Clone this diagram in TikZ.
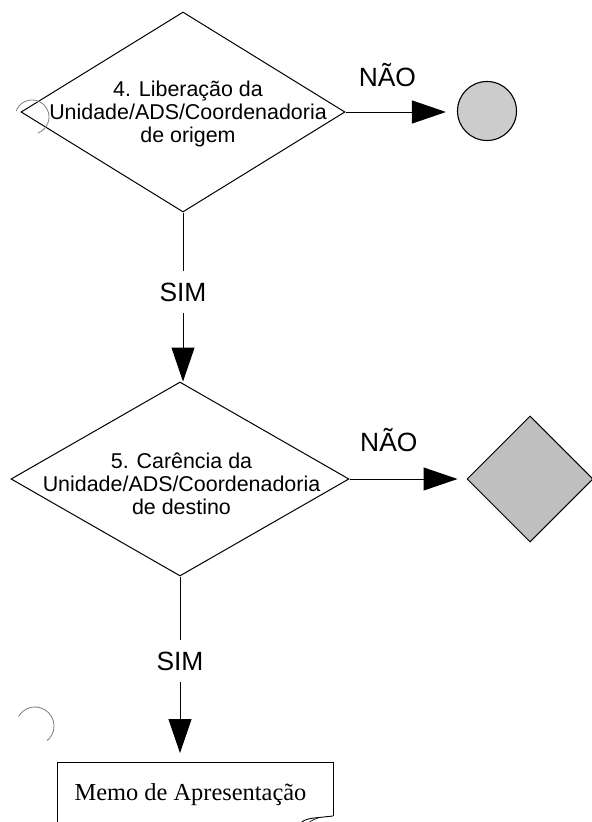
\documentclass[tikz,border=0pt]{standalone}
\usepackage{fontspec}
\setmainfont{Liberation Sans}
\newfontfamily\serifface{Liberation Serif}
\usetikzlibrary{shapes.geometric,arrows.meta,positioning}
\tikzset{
  decision/.style={diamond,draw=black,line width=1bp,inner sep=0pt,aspect=1},
  dtext/.style={align=center,font=\fontsize{21.5}{23}\selectfont,inner sep=0pt},
  lbl/.style={font=\fontsize{26.5}{30}\selectfont,inner sep=0pt},
  flow/.style={draw=black,line width=1bp,-{Triangle[length=34bp,width=23bp]}},
  endcircle/.style={circle,draw=black,line width=1.1bp,fill=black!20,minimum size=59bp,inner sep=0pt},
  enddiamond/.style={diamond,draw=black,line width=1bp,fill=black!25,minimum width=126bp,minimum height=126bp,inner sep=0pt},
  doc/.style={draw=none,inner sep=0pt},
  artifact/.style={draw=black!50,line width=0.8bp}
}
\begin{document}
\begin{tikzpicture}[x=1bp,y=-1bp]
\useasboundingbox (0,0) rectangle (592,822);
\fill[white] (0,0) rectangle (592,822);

% decision 1
\node[decision,minimum width=324bp,minimum height=200bp] (d1) at (183,112) {};
\node[dtext] (t1) at (188,114) {4. Liberação da\\Unidade/ADS/Coordenadoria\\de origem};
\node[endcircle] (c1) at (487,111) {};
\draw[flow,shorten >=11bp] (d1.east) -- node[lbl,pos=0.376,above=25bp] (n1) {NÃO} (d1.east -| c1.west);

% decision 2
\node[decision,minimum width=338bp,minimum height=194bp] (d2) at (180,479) {};
\node[dtext] (t2) at (181.5,484) {5. Carência da\\Unidade/ADS/Coordenadoria\\de destino};
\node[enddiamond] (e2) at (530,479) {};
\draw[flow,shorten >=9bp] (d2.east) -- node[lbl,pos=0.336,above=27bp] (n2) {NÃO} (e2.west);

% SIM 1
\draw[flow] (d1.south) -- node[lbl,fill=white,inner ysep=12bp,inner xsep=2bp,pos=0.47] (s1) {SIM} (d1.south |- d2.north);

% document box
\coordinate (btl) at (57,762);
\coordinate (btr) at (333,762);
\node[doc,anchor=base] (memo) at (190.5,800) {\serifface\fontsize{24.5}{28}\selectfont Memo de Apresentação};
\draw[line width=1bp] (57,830) -- (btl) -- (btr) -- (333,816);
\draw[line width=0.9bp] (333,816) -- (314,818) .. controls (306,819) and (302,821) .. (300,824);
\draw[line width=0.6bp] (318,818) .. controls (312,820) and (309,822) .. (308,824);

% SIM 2
\coordinate (bt) at (d2.south |- btl);
\draw[flow,shorten >=9bp] (d2.south) -- node[lbl,fill=white,inner ysep=12bp,inner xsep=2bp,pos=0.455] (s2) {SIM} (bt);

% scan artifacts (punch holes)
\draw[artifact] (32,117) ++(-160:17) arc[start angle=-160,end angle=70,radius=17];
\draw[artifact] (35,726) ++(-150:19) arc[start angle=-150,end angle=50,radius=19];
\end{tikzpicture}
\end{document}
